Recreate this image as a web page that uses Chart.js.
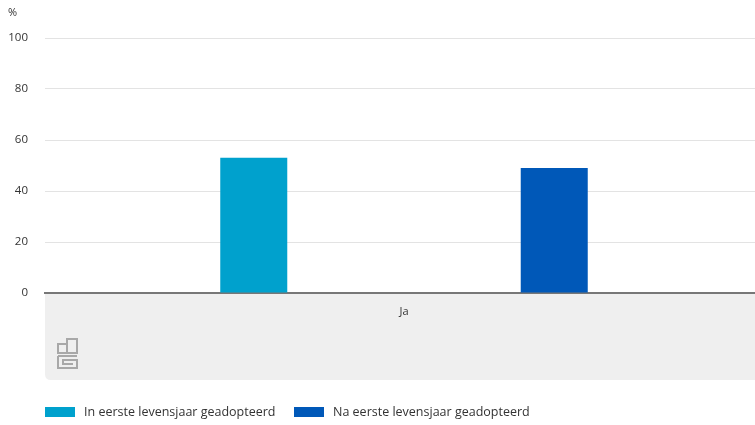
<!DOCTYPE html>
<html>
<head>
<meta charset="utf-8">
<script src="https://cdn.jsdelivr.net/npm/chart.js@4"></script>
<style>
  html, body { margin: 0; padding: 0; background: #fff; overflow: hidden; }
  /* plot runs a few px past the right edge of the window, as in the original */
  #wrap { width: 763px; height: 425px; position: relative; }
</style>
</head>
<body>
<div id="wrap"><canvas id="chart"></canvas></div>
<script>
const categories = ['Ja'];
const seriesNames = ['In eerste levensjaar geadopteerd', 'Na eerste levensjaar geadopteerd'];
const inFirstYear = [53];
const afterFirstYear = [49];
const yTicks = [0, 20, 40, 60, 80, 100];

const fontFamily = "'Open Sans', 'Noto Sans', sans-serif";

// grey band under the x axis plus the little logo and the % unit
const backdrop = {
    id: 'backdrop',
    beforeDraw(chart) {
        const ctx = chart.ctx;
        const area = chart.chartArea;
        const xs = chart.scales.x;
        ctx.save();
        ctx.fillStyle = '#efefef';
        const r = 6, x0 = area.left, x1 = chart.width, y0 = area.bottom, y1 = xs.bottom;
        ctx.beginPath();
        ctx.moveTo(x0, y0);
        ctx.lineTo(x1, y0);
        ctx.lineTo(x1, y1);
        ctx.lineTo(x0 + r, y1);
        ctx.quadraticCurveTo(x0, y1, x0, y1 - r);
        ctx.closePath();
        ctx.fill();

        // logo
        ctx.strokeStyle = '#a8a8a8';
        ctx.lineWidth = 2;
        const lx = 58, ly = 338;
        ctx.strokeRect(lx, ly + 6, 9, 9);
        ctx.strokeRect(lx + 9, ly + 1, 10, 14);
        ctx.beginPath();
        ctx.moveTo(lx, ly + 18); ctx.lineTo(lx + 19, ly + 18);
        ctx.moveTo(lx, ly + 18); ctx.lineTo(lx, ly + 30);
        ctx.lineTo(lx + 19, ly + 30); ctx.lineTo(lx + 19, ly + 22);
        ctx.lineTo(lx + 5, ly + 22); ctx.lineTo(lx + 5, ly + 26);
        ctx.lineTo(lx + 15, ly + 26);
        ctx.stroke();

        ctx.fillStyle = '#333';
        ctx.font = '11px ' + fontFamily;
        ctx.textBaseline = 'middle';
        ctx.textAlign = 'left';
        ctx.fillText('%', 8, 13);
        ctx.restore();
    },
    // legend drawn by hand so it can sit aligned with the plot
    afterDraw(chart) {
        const ctx = chart.ctx;
        const left = chart.chartArea.left;
        const y = 412;
        const starts = [left, 294];
        ctx.save();
        ctx.font = '12.5px ' + fontFamily;
        ctx.textBaseline = 'middle';
        ctx.textAlign = 'left';
        chart.data.datasets.forEach((ds, i) => {
            const x = starts[i];
            ctx.fillStyle = ds.backgroundColor;
            ctx.fillRect(x, y - 5, 30, 10);
            ctx.fillStyle = '#333';
            ctx.fillText(ds.label, x + 39, y);
        });
        ctx.restore();
    }
};

new Chart(document.getElementById('chart'), {
    type: 'bar',
    data: {
        labels: categories,
        datasets: [
            {
                label: seriesNames[0],
                data: inFirstYear,
                backgroundColor: '#00a1cd',
                barPercentage: 0.223,
                categoryPercentage: 0.837
            },
            {
                label: seriesNames[1],
                data: afterFirstYear,
                backgroundColor: '#0058b8',
                barPercentage: 0.223,
                categoryPercentage: 0.837
            }
        ]
    },
    options: {
        responsive: true,
        maintainAspectRatio: false,
        animation: false,
        layout: { padding: { top: 38, right: 0, left: 0, bottom: 45 } },
        plugins: {
            legend: { display: false },
            tooltip: { enabled: false }
        },
        scales: {
            x: {
                grid: { display: false },
                border: { color: '#777', width: 2 },
                ticks: { color: '#333', padding: 4, font: { family: fontFamily, size: 11 } },
                afterFit(scale) { scale.height = 87; }
            },
            y: {
                min: 0,
                max: 100,
                afterBuildTicks(scale) { scale.ticks = yTicks.map(v => ({ value: v })); },
                grid: { color: '#e3e3e3', drawTicks: false },
                border: { display: false },
                ticks: { color: '#333', padding: 17, font: { family: fontFamily, size: 11.5 } },
                afterFit(scale) { scale.width = 45; }
            }
        }
    },
    plugins: [backdrop]
});
</script>
</body>
</html>
